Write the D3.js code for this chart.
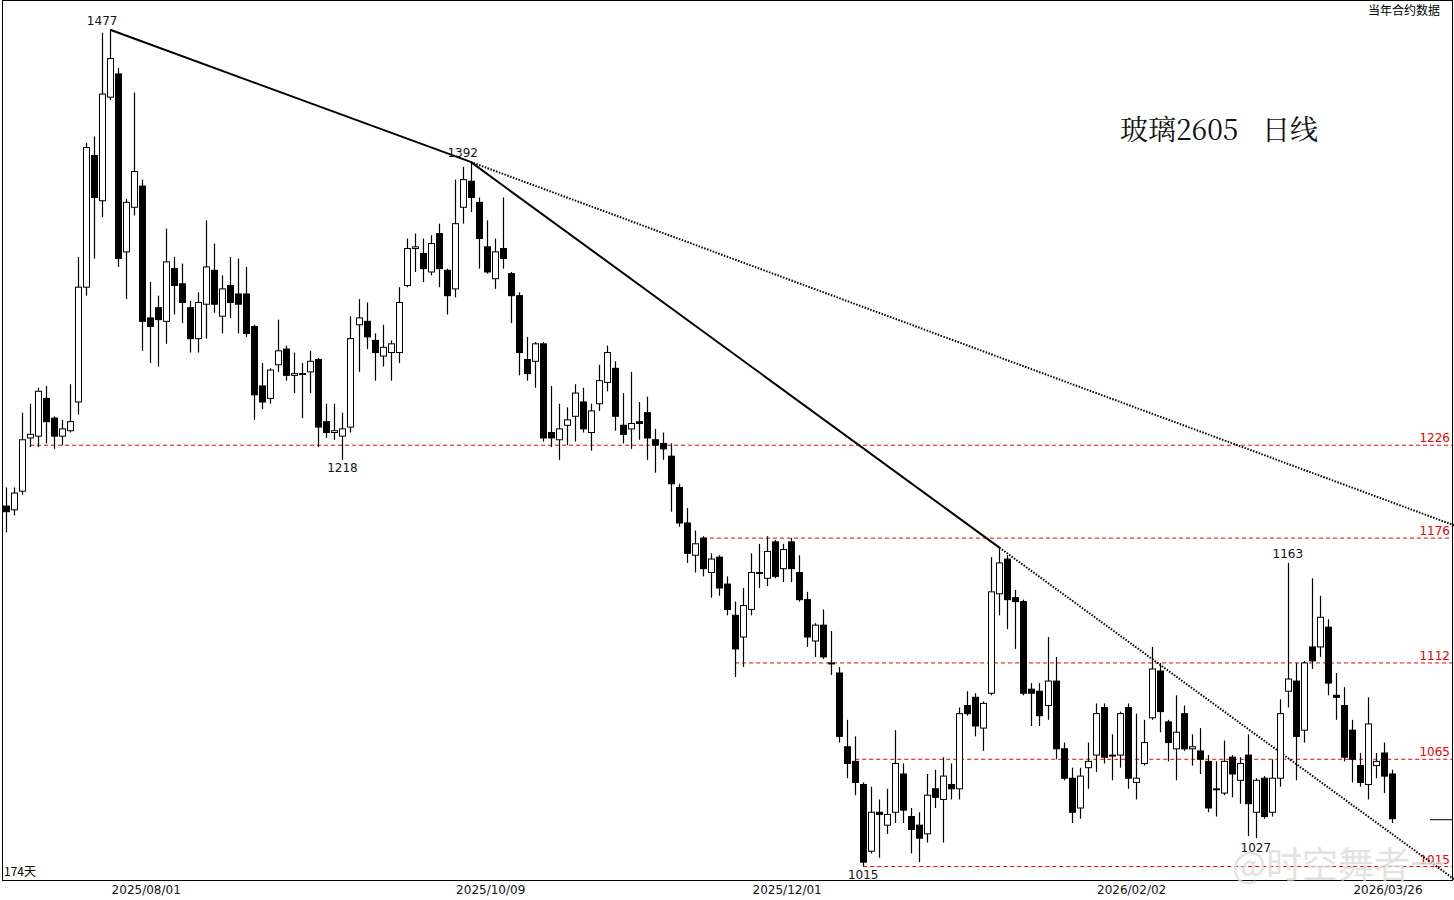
<!DOCTYPE html>
<html><head><meta charset="utf-8">
<script src="https://cdn.jsdelivr.net/npm/d3@7"></script>
<style>body{margin:0;background:#fff}svg{display:block}</style>
</head><body>
<script>
// OHLC per trading day (174 days)
const ohlc = [
[1193,1203,1179,1190],[1191,1203,1188,1200],[1201,1244,1199,1229],[1230,1249,1225,1232],[1231,1258,1225,1256],
[1252,1259,1227,1239],[1241,1242,1224,1231],[1231,1240,1226,1235],[1234,1260,1233,1239],[1250,1334,1243,1316],
[1316,1404,1311,1401],[1396,1408,1333,1370],[1368,1475,1358,1435],[1433,1477,1431,1458],[1448,1452,1328,1333],
[1337,1369,1309,1367],[1364,1436,1359,1386],[1377,1381,1279,1296],[1298,1319,1272,1293],[1304,1311,1270,1297],
[1296,1351,1283,1331],[1327,1334,1300,1317],[1318,1330,1295,1307],[1304,1308,1278,1286],[1286,1313,1278,1307],
[1306,1356,1286,1328],[1326,1342,1301,1306],[1299,1323,1289,1315],[1317,1334,1298,1307],[1312,1333,1289,1306],
[1312,1328,1287,1289],[1293,1294,1240,1254],[1259,1272,1246,1250],[1252,1269,1249,1268],[1271,1297,1267,1279],
[1280,1282,1262,1265],[1265,1278,1255,1266],[1266,1272,1241,1266],[1267,1279,1255,1273],[1274,1275,1225,1236],
[1239,1249,1230,1233],[1233,1249,1229,1234],[1231,1244,1218,1235],[1236,1299,1233,1286],[1294,1309,1267,1298],
[1296,1307,1280,1287],[1285,1289,1262,1278],[1276,1294,1270,1281],[1278,1285,1262,1283],[1278,1316,1272,1307],
[1317,1345,1316,1339],[1339,1348,1325,1340],[1336,1345,1319,1327],[1325,1347,1323,1342],[1348,1354,1316,1327],
[1326,1327,1300,1311],[1315,1381,1310,1354],[1364,1389,1354,1381],[1380,1392,1361,1370],[1367,1370,1327,1345],
[1340,1356,1324,1325],[1321,1345,1315,1337],[1339,1370,1327,1333],[1324,1325,1295,1311],[1311,1313,1265,1278],
[1274,1287,1262,1266],[1273,1284,1258,1283],[1283,1284,1228,1230],[1233,1259,1225,1230],[1229,1249,1218,1235],
[1237,1247,1226,1240],[1242,1260,1228,1255],[1250,1258,1233,1235],[1233,1249,1223,1245],[1249,1271,1245,1262],
[1261,1282,1256,1278],[1269,1273,1234,1242],[1237,1255,1227,1232],[1235,1267,1224,1238],[1239,1250,1229,1238],
[1244,1253,1218,1230],[1229,1235,1211,1226],[1227,1233,1218,1224],[1220,1227,1190,1205],[1203,1205,1182,1184],
[1184,1192,1163,1168],[1167,1180,1158,1173],[1176,1177,1156,1160],[1158,1168,1145,1165],[1166,1167,1146,1150],
[1152,1156,1136,1139],[1136,1143,1105,1119],[1125,1150,1110,1141],[1139,1168,1136,1158],[1158,1173,1150,1158],
[1155,1177,1151,1169],[1174,1175,1155,1156],[1160,1173,1153,1170],[1174,1176,1153,1160],[1158,1167,1143,1144],
[1144,1148,1120,1125],[1123,1132,1115,1131],[1131,1139,1114,1115],[1112,1128,1106,1112],[1107,1110,1073,1076],
[1071,1084,1056,1063],[1064,1076,1048,1054],[1053,1054,1015,1017],[1022,1052,1021,1040],[1040,1046,1019,1039],
[1034,1051,1030,1039],[1040,1079,1035,1063],[1058,1063,1035,1041],[1038,1042,1021,1032],[1034,1040,1017,1028],
[1030,1058,1026,1048],[1051,1060,1042,1047],[1046,1066,1026,1057],[1053,1063,1046,1051],[1051,1090,1046,1087],
[1091,1098,1086,1087],[1095,1097,1076,1081],[1080,1093,1069,1092],[1097,1166,1096,1148],[1147,1171,1136,1163],
[1165,1167,1129,1144],[1145,1149,1119,1143],[1143,1144,1096,1097],[1099,1102,1081,1097],[1098,1102,1081,1086],
[1091,1125,1084,1103],[1103,1115,1065,1070],[1070,1073,1055,1056],[1056,1061,1035,1040],[1042,1061,1037,1057],
[1061,1073,1051,1064],[1067,1092,1059,1087],[1090,1092,1063,1066],[1067,1077,1055,1067],[1067,1088,1061,1087],
[1090,1092,1051,1056],[1054,1087,1046,1056],[1063,1084,1062,1073],[1085,1120,1084,1109],[1108,1112,1078,1088],
[1083,1084,1064,1073],[1070,1096,1055,1078],[1087,1091,1069,1070],[1070,1077,1062,1071],[1069,1080,1058,1065],
[1064,1067,1040,1042],[1051,1064,1038,1051],[1049,1074,1048,1064],[1066,1067,1047,1058],[1055,1066,1044,1063],
[1067,1077,1029,1044],[1040,1056,1028,1055],[1056,1057,1037,1038],[1040,1065,1038,1056],[1056,1094,1052,1087],
[1098,1163,1090,1104],[1103,1112,1055,1076],[1079,1113,1073,1112],[1120,1155,1109,1113],[1120,1146,1115,1135],
[1130,1134,1096,1102],[1096,1107,1084,1095],[1091,1100,1064,1066],[1079,1084,1054,1065],[1062,1068,1052,1054],
[1053,1095,1046,1082],[1062,1068,1056,1064],[1068,1073,1049,1057],[1058,1060,1035,1037]
];
const dateLabels = ["2025/08/01","2025/10/09","2025/12/01","2026/02/02","2026/03/26"];
const dateIdx = [18,61,98,141,173];
const levels = [1226,1176,1112,1065,1015];
const levelStart = [3,87,91,106,107];
const extremes = [[12,1477,"above"],[57,1392,"above"],[42,1218,"below"],[107,1015,"below"],[156,1027,"below"],[160,1163,"above"]];
const trendSolid = [[13,1477],[58,1392]];
const trendB = [[58,1392],[124,1171]];
const trendC = [[58,1392],[173,1195]];

const W=1454,H=900;
const svg=d3.select("body").append("svg").attr("width",W).attr("height",H);
const x=d3.scaleLinear().domain([0,173]).range([6,1392]);
const y=d3.scaleLog().domain([1008.9,1496.8]).range([880,0]);

svg.append("rect").attr("x",2.5).attr("y",0.5).attr("width",1450).attr("height",880).attr("fill","none").attr("stroke","#000");

levels.forEach((v,k)=>{
  svg.append("line").attr("x1",x(levelStart[k])).attr("x2",1452).attr("y1",y(v)).attr("y2",y(v))
    .attr("stroke","#e00").attr("stroke-dasharray","4,3");
  svg.append("text").attr("x",1450).attr("y",y(v)-3).attr("text-anchor","end")
    .attr("font-family","DejaVu Sans, sans-serif").attr("font-size",12).attr("fill","#e00").text(v);
});

function ext(p,xEnd){const x1=x(p[0][0]),y1=y(p[0][1]),x2=x(p[1][0]),y2=y(p[1][1]);return [x2,y2,xEnd,y2+(y2-y1)/(x2-x1)*(xEnd-x2),x1,y1];}
svg.append("line").attr("x1",x(trendSolid[0][0])).attr("y1",y(trendSolid[0][1])).attr("x2",x(trendSolid[1][0])).attr("y2",y(trendSolid[1][1])).attr("stroke","#000").attr("stroke-width",2);
const b=ext(trendB,1454);
svg.append("line").attr("x1",b[4]).attr("y1",b[5]).attr("x2",b[0]).attr("y2",b[1]).attr("stroke","#000").attr("stroke-width",2);
svg.append("line").attr("x1",b[0]).attr("y1",b[1]).attr("x2",b[2]).attr("y2",b[3]).attr("stroke","#000").attr("stroke-width",2).attr("stroke-dasharray","1.5,1.5");
const c=ext(trendC,1454);
svg.append("line").attr("x1",c[4]).attr("y1",c[5]).attr("x2",c[2]).attr("y2",c[3]).attr("stroke","#000").attr("stroke-width",2).attr("stroke-dasharray","1.5,1.5");

const g=svg.append("g");
ohlc.forEach((d,i)=>{
  const [o,h,l,cl]=d, cx=Math.round(x(i))+0.5;
  g.append("line").attr("x1",cx).attr("x2",cx).attr("y1",y(h)).attr("y2",y(l)).attr("stroke","#000").attr("stroke-width",1.2);
  const top=y(Math.max(o,cl)),bot=y(Math.min(o,cl));
  g.append("rect").attr("x",cx-3).attr("y",top).attr("width",6).attr("height",Math.max(1,bot-top))
    .attr("fill",cl>=o?"#fff":"#000").attr("stroke","#000").attr("stroke-width",1);
});

extremes.forEach(e=>{
  svg.append("text").attr("x",x(e[0])).attr("y",e[2]==="above"?y(e[1])-5:y(e[1])+12).attr("text-anchor","middle")
   .attr("font-family","DejaVu Sans, sans-serif").attr("font-size",12).attr("fill","#111").text(e[1]);
});

svg.append("line").attr("x1",1430).attr("x2",1452).attr("y1",y(ohlc[173][3])+1).attr("y2",y(ohlc[173][3])+1).attr("stroke","#000");

dateIdx.forEach((k,j)=>{
  svg.append("text").attr("x",x(k)-4).attr("y",894).attr("text-anchor","middle")
   .attr("font-family","DejaVu Sans, sans-serif").attr("font-size",12).attr("fill","#111").text(dateLabels[j]);
});

svg.append("text").attr("x",4).attr("y",876).attr("font-family","Noto Sans CJK SC, sans-serif").attr("font-size",12).text("174天");
svg.append("text").attr("x",1440).attr("y",15).attr("text-anchor","end").attr("font-family","Noto Sans CJK SC, sans-serif").attr("font-size",12).text("当年合约数据");
svg.append("text").attr("x",1120).attr("y",140).attr("font-family","Noto Serif CJK SC, serif").attr("font-size",28).attr("fill","#111").text("玻璃2605");
svg.append("text").attr("x",1318).attr("y",140).attr("text-anchor","end").attr("font-family","Noto Serif CJK SC, serif").attr("font-size",28).attr("fill","#111").text("日线");
svg.append("text").attr("x",1232).attr("y",878).attr("font-family","Noto Sans CJK SC, sans-serif").attr("font-size",36).attr("fill","#ddd").attr("opacity",0.8).text("@时空舞者一");
</script>
</body></html>
